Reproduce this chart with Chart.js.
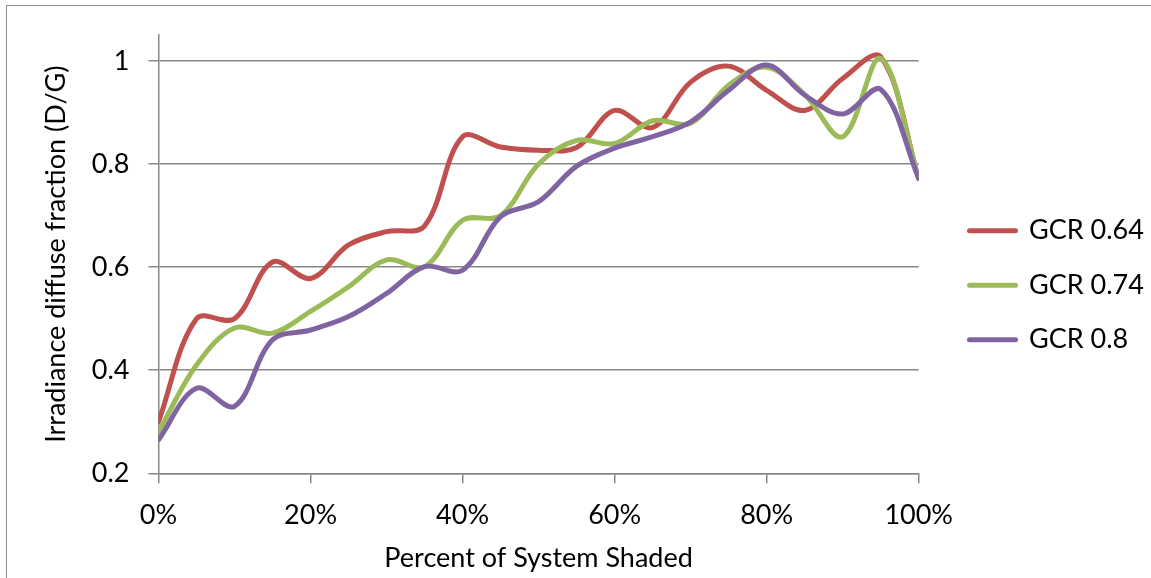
<!DOCTYPE html>
<html>
<head>
<meta charset="utf-8">
<title>Irradiance diffuse fraction</title>
<script src="https://cdn.jsdelivr.net/npm/chart.js@4"></script>
<style>
  html, body { margin: 0; padding: 0; background: #fff; }
  #wrap { position: relative; width: 1151px; height: 578px; overflow: hidden; }
  #frame { position: absolute; left: 6px; top: 5px; width: 1200px; height: 620px; border: 1px solid #8c8c8c; }
  #chart { position: absolute; left: 0; top: 0; }
</style>
</head>
<body>
<div id="wrap">
  <div id="frame"></div>
  <canvas id="chart" width="1151" height="578"></canvas>
</div>
<script>
// Data (x = percent of system shaded)
const shaded = [0, 5, 10, 15, 20, 25, 30, 35, 40, 45, 50, 55, 60, 65, 70, 75, 80, 85, 90, 95, 100];
const gcr064 = [0.30, 0.50, 0.50, 0.61, 0.578, 0.643, 0.669, 0.68, 0.853, 0.833, 0.827, 0.832, 0.904, 0.871, 0.959, 0.99, 0.943, 0.904, 0.966, 1.008, 0.772];
const gcr074 = [0.28, 0.41, 0.482, 0.472, 0.514, 0.562, 0.614, 0.601, 0.691, 0.70, 0.80, 0.846, 0.84, 0.884, 0.879, 0.953, 0.988, 0.935, 0.853, 1.005, 0.772];
const gcr080 = [0.265, 0.365, 0.33, 0.459, 0.478, 0.504, 0.549, 0.601, 0.594, 0.698, 0.727, 0.796, 0.831, 0.853, 0.882, 0.943, 0.992, 0.934, 0.897, 0.945, 0.772];
const seriesNames = ['GCR 0.64', 'GCR 0.74', 'GCR 0.8'];
const seriesColors = ['#C0504D', '#9BBB59', '#8064A2'];
const xTicks = [0, 20, 40, 60, 80, 100];
const yTicks = [0.2, 0.4, 0.6, 0.8, 1];

const FONT = 'Lato';
const FS = 27;
const GRID = '#888888';

// legend geometry (line start and first row)
const legendPad = 27.5;
const boxW = 46;
const legendLineX = 969.5;
const legendFirstY = 217.2;
const plotRight = 918.7;

const meas = document.createElement('canvas').getContext('2d');
meas.font = FS + 'px ' + FONT;
const textW = Math.max(...seriesNames.map(n => meas.measureText(n).width));
// chart.js adds 10px to a vertical legend's width
const legendW = legendPad + boxW + FS / 2 + textW + 10;
const padRight = 1151 - plotRight - legendW;

const legendShift = {
  id: 'legendShift',
  afterLayout(chart) {
    const lg = chart.legend;
    if (!lg || !lg.columnSizes || !lg.columnSizes.length) return;
    const pad = lg.options.labels.padding;
    const dx = legendLineX - (lg.left + pad);
    lg.left += dx; lg.right += dx;
    const colH = lg.columnSizes[0].height;
    const cur = (lg.top + pad + lg.bottom - colH) / 2;
    const dy = legendFirstY - cur;
    lg.top += dy; lg.bottom += dy;
  }
};

const allSeries = [gcr064, gcr074, gcr080];
const datasets = allSeries.map((vals, i) => ({
  label: seriesNames[i],
  data: shaded.map((x, j) => ({ x: x, y: vals[j] })),
  borderColor: seriesColors[i],
  backgroundColor: seriesColors[i],
  borderWidth: 5,
  borderCapStyle: 'round',
  borderJoinStyle: 'round',
  pointRadius: 0,
  tension: 0.35,
  fill: false,
  order: 3 - i
}));

new Chart(document.getElementById('chart'), {
  type: 'line',
  data: { datasets: datasets },
  options: {
    responsive: false,
    animation: false,
    layout: { padding: { top: 35, left: 0, bottom: 0, right: padRight } },
    plugins: {
      tooltip: { enabled: false },
      legend: {
        position: 'right',
        align: 'center',
        labels: {
          color: '#000',
          font: { family: FONT, size: FS },
          boxWidth: boxW,
          boxHeight: 0,
          padding: legendPad,
          sort: (a, b) => a.datasetIndex - b.datasetIndex
        }
      }
    },
    scales: {
      x: {
        type: 'linear',
        min: 0,
        max: 100,
        afterBuildTicks: s => { s.ticks = xTicks.map(v => ({ value: v })); },
        afterFit: s => { s.height = 578 - 473.3; },
        ticks: {
          color: '#000',
          font: { family: FONT, size: FS },
          padding: 16,
          maxRotation: 0,
          callback: v => v + '%'
        },
        grid: { drawOnChartArea: false, drawTicks: true, tickLength: 10, color: GRID, lineWidth: 1.5 },
        border: { color: GRID, width: 1.5 },
        title: {
          display: true,
          text: 'Percent of System Shaded',
          color: '#000',
          font: { family: FONT, size: FS },
          padding: { top: 0, bottom: 4 }
        }
      },
      y: {
        min: 0.2,
        max: 1.05,
        afterBuildTicks: s => { s.ticks = yTicks.map(v => ({ value: v })); },
        afterFit: s => { s.width = 158.5; },
        ticks: {
          color: '#000',
          font: { family: FONT, size: FS },
          padding: 19,
          callback: v => String(v)
        },
        grid: { color: GRID, lineWidth: 1.5, tickLength: 10 },
        border: { color: GRID, width: 1.5 },
        title: {
          display: true,
          text: 'Irradiance diffuse fraction (D/G)',
          color: '#000',
          font: { family: FONT, size: FS },
          padding: { top: 40, bottom: 0 }
        }
      }
    }
  },
  plugins: [legendShift]
});
</script>
</body>
</html>
